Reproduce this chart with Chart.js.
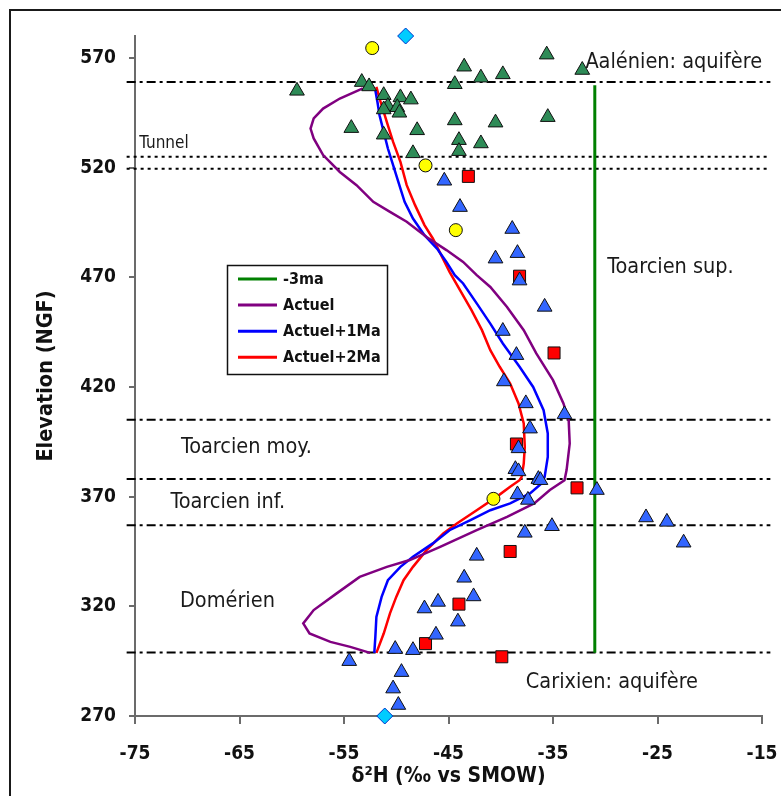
<!DOCTYPE html>
<html>
<head>
<meta charset="utf-8">
<script src="https://cdn.jsdelivr.net/npm/chart.js@4/dist/chart.umd.min.js"></script>
<style>
  html, body { margin: 0; padding: 0; background: #fff; }
  #wrap { width: 781px; height: 796px; }
</style>
</head>
<body>
<div id="wrap"><canvas id="chart" width="781" height="796"></canvas></div>
<script>
// ---- Modelled δ2H profiles (‰ vs SMOW) against elevation (m NGF) ----
const actuelElev = [556.1, 551.5, 546.9, 542.4, 537.8, 533.3, 525.7, 518.0, 512.0, 504.4, 499.8, 495.3, 488.4, 482.4, 477.0, 471.0, 465.6, 456.5, 445.9, 435.3, 423.1, 412.5, 404.9, 394.2, 382.1, 377.5, 373.0, 366.9, 360.8, 354.7, 347.1, 341.1, 338.0, 333.4, 325.9, 318.3, 312.2, 307.6, 303.8, 301.5, 298.8];
const actuelDH   = [-53.2, -55.4, -57.0, -57.9, -58.2, -57.9, -57.0, -55.4, -53.8, -52.2, -50.6, -49.0, -47.1, -45.2, -43.6, -42.3, -41.0, -39.4, -37.8, -36.6, -35.0, -34.0, -33.5, -33.4, -33.7, -33.9, -35.3, -36.8, -39.4, -42.3, -45.8, -48.7, -50.9, -53.5, -55.7, -57.9, -58.9, -58.3, -56.3, -54.4, -52.5];

const plus1Elev = [555.3, 549.9, 543.9, 536.3, 528.7, 521.1, 513.5, 504.4, 496.8, 489.2, 483.1, 477.0, 471.0, 467.2, 458.1, 448.9, 439.8, 429.2, 420.0, 409.4, 398.8, 388.1, 379.0, 376.0, 371.5, 366.9, 363.8, 359.3, 354.7, 348.7, 342.6, 338.0, 331.9, 324.3, 315.2, 306.1, 298.8];
const plus1DH   = [-52.0, -51.8, -51.6, -51.2, -50.8, -50.3, -49.8, -49.2, -48.4, -47.3, -46.1, -45.2, -44.4, -43.6, -42.3, -41.0, -39.8, -38.2, -36.9, -35.9, -35.5, -35.5, -35.8, -36.1, -37.2, -39.1, -41.0, -42.9, -44.9, -46.5, -48.4, -49.6, -50.8, -51.4, -51.9, -52.0, -52.1];

const plus2Elev = [556.8, 551.5, 545.4, 539.3, 531.7, 522.6, 512.0, 502.9, 493.8, 487.7, 480.1, 472.5, 464.1, 455.0, 445.9, 436.8, 429.2, 421.6, 412.5, 403.4, 392.7, 385.1, 379.0, 377.5, 374.5, 369.9, 363.8, 357.8, 353.2, 345.6, 338.0, 331.9, 324.3, 316.8, 307.6, 298.8];
const plus2DH   = [-51.9, -51.6, -51.2, -50.8, -50.3, -49.6, -49.0, -48.2, -47.3, -46.5, -45.7, -44.9, -43.9, -42.8, -41.8, -41.0, -40.1, -39.1, -38.3, -37.8, -37.7, -37.8, -38.0, -38.2, -39.1, -40.4, -42.3, -44.2, -45.5, -47.1, -48.4, -49.3, -50.0, -50.6, -51.2, -51.9];

// -3 Ma profile: constant value over the Toarcien-Domérien column
const minus3DH   = [-31, -31];
const minus3Elev = [298.8, 557.5];

// ---- Measured samples ----
const aalenienDH   = [-59.5, -53.3, -52.6, -51.2, -49.6, -48.6, -50.8, -51.2, -49.9, -49.7, -54.3, -48.0, -51.2, -48.4, -44.4, -43.5, -41.9, -39.8, -35.6, -32.2, -44.4, -40.5, -35.5, -44.0, -44.0, -41.9];
const aalenienElev = [555, 559, 557, 553, 552, 551, 548, 546.5, 547.5, 545, 538, 537, 535, 526.5, 558, 566, 561, 562.5, 571.5, 564.5, 541.5, 540.5, 543, 532.5, 527.5, 531];

const toarcienDH   = [-45.4, -43.9, -38.9, -40.5, -38.4, -35.8, -39.8, -38.5, -39.7, -37.6, -33.9, -37.2, -38.3, -38.6, -38.3, -36.4, -36.2, -38.4, -37.4, -30.8, -26.1, -24.1, -22.5, -37.7, -35.1, -42.3, -43.5, -42.6, -46.0, -47.3, -44.1, -46.2, -48.4, -50.1, -54.5, -49.5, -50.3, -49.8, -38.2];
const toarcienElev = [514, 502, 492, 478.5, 481, 456.5, 445.5, 434.5, 422.5, 412.5, 407.5, 401, 392, 382.5, 381.5, 378, 377.5, 371, 368.5, 373, 360.5, 358.5, 349, 353.5, 356.5, 343, 333, 324.5, 322, 319, 313, 307, 300, 300.5, 295, 290, 282.5, 275, 468.5];

const squareDH   = [-43.1, -38.2, -34.9, -38.5, -32.7, -39.1, -44.0, -47.2, -39.9];
const squareElev = [516, 470.5, 435.5, 394, 374, 345, 321, 303, 297];

const circleDH   = [-52.3, -47.2, -44.3, -40.7];
const circleElev = [574.5, 521, 491.5, 369];

const diamondDH   = [-49.1, -51.1];
const diamondElev = [580, 270];

// ---- Formation boundaries and tunnel level ----
const boundaryElev = [559, 405, 378, 357, 299];
const tunnelElev   = [525, 519.5];
const boundarySpan = [-75.8, -14.2];

// ---- Axis ticks ----
const xTicks = [-75, -65, -55, -45, -35, -25, -15];
const yTicks = [270, 320, 370, 420, 470, 520, 570];

// ---- Formation names ----
const zoneNames = ['Aalénien: aquifère', 'Toarcien sup.', 'Toarcien moy.', 'Toarcien inf.', 'Domérien', 'Carixien: aquifère', 'Tunnel'];

// placement of the formation names, in axis units
const zonePlacement = [
  { x: -31.9, y: 568.0, size: 21.5 },
  { x: -29.8, y: 474.6, size: 21.5 },
  { x: -70.6, y: 392.6, size: 21.5 },
  { x: -71.6, y: 367.5, size: 21.5 },
  { x: -70.7, y: 322.4, size: 21.5 },
  { x: -37.6, y: 285.5, size: 21.5 },
  { x: -74.6, y: 531.1, size: 17 }
];

const FONT = "'DejaVu Sans Condensed', 'DejaVu Sans', sans-serif";

const pairs = (xs, ys) => xs.map((v, i) => ({ x: v, y: ys[i] }));

function curve(label, xs, ys, color, width) {
  return {
    type: 'line', label, data: pairs(xs, ys), borderColor: color, backgroundColor: color,
    borderWidth: width, pointRadius: 0, fill: false, tension: 0, order: 1, inLegend: true
  };
}

function markers(xs, ys, style, fill, radius, border) {
  return {
    type: 'scatter', data: pairs(xs, ys), pointStyle: style, backgroundColor: fill,
    borderColor: border || '#111', borderWidth: 1, pointRadius: radius, pointHoverRadius: radius,
    order: 0, clip: false
  };
}

function guide(elev, dash) {
  return {
    type: 'line', data: pairs(boundarySpan, [elev, elev]), borderColor: '#000', borderWidth: 2,
    borderDash: dash, pointRadius: 0, fill: false, order: 2, clip: false
  };
}

const datasets = [];
boundaryElev.forEach(e => datasets.push(guide(e, [9, 4, 3, 4])));
tunnelElev.forEach(e => datasets.push(guide(e, [3, 4])));
datasets.push(curve('-3ma', minus3DH, minus3Elev, '#008000', 3));
datasets.push(curve('Actuel', actuelDH, actuelElev, '#800080', 2.5));
datasets.push(curve('Actuel+1Ma', plus1DH, plus1Elev, '#0000FF', 2.5));
datasets.push(curve('Actuel+2Ma', plus2DH, plus2Elev, '#FF0000', 2.5));
datasets.push(markers(aalenienDH, aalenienElev, 'triangle', '#2E8B57', 8.5));
datasets.push(markers(toarcienDH, toarcienElev, 'triangle', '#3366FF', 8.5));
datasets.push(markers(squareDH, squareElev, 'rect', '#FF0000', 8.5));
datasets.push(markers(circleDH, circleElev, 'circle', '#FFFF00', 6.5));
datasets.push(markers(diamondDH, diamondElev, 'rectRot', '#00CCFF', 8, '#0033CC'));

// frame, formation names and the legend box
const decor = {
  id: 'decor',
  beforeDraw(chart) {
    const ctx = chart.ctx;
    ctx.save();
    ctx.fillStyle = '#fff';
    ctx.fillRect(0, 0, chart.width, chart.height);
    ctx.fillStyle = '#1a1a1a';
    ctx.fillRect(9, 9, chart.width, 2);
    ctx.fillRect(9, 9, 2, chart.height);
    ctx.restore();
  },
  afterDatasetsDraw(chart) {
    const { ctx, scales: { x, y } } = chart;
    ctx.save();
    ctx.textBaseline = 'middle';
    ctx.textAlign = 'left';
    ctx.fillStyle = '#1a1a1a';
    zoneNames.forEach((name, i) => {
      const p = zonePlacement[i];
      ctx.font = p.size + 'px ' + FONT;
      ctx.fillText(name, x.getPixelForValue(p.x), y.getPixelForValue(p.y));
    });

    // legend
    const items = chart.data.datasets.filter(d => d.inLegend);
    const box = { left: 227, top: 265, width: 160, height: 109 };
    ctx.fillStyle = '#fff';
    ctx.fillRect(box.left, box.top, box.width, box.height);
    ctx.strokeStyle = '#111';
    ctx.lineWidth = 1.5;
    ctx.strokeRect(box.left + 0.5, box.top + 0.5, box.width, box.height);
    ctx.font = 'bold 16px ' + FONT;
    items.forEach((d, i) => {
      const cy = 279 + i * 26.1;
      ctx.strokeStyle = d.borderColor;
      ctx.lineWidth = 3;
      ctx.beginPath();
      ctx.moveTo(238, cy);
      ctx.lineTo(277, cy);
      ctx.stroke();
      ctx.fillStyle = '#111';
      ctx.fillText(d.label, 283, cy + 1);
    });
    ctx.restore();
  }
};

const noEdgePadding = s => { s.paddingLeft = 0; s.paddingRight = 0; s.paddingTop = 0; s.paddingBottom = 0; };

new Chart(document.getElementById('chart'), {
  data: { datasets },
  options: {
    responsive: false,
    animation: false,
    devicePixelRatio: 1,
    layout: { padding: { left: 10, top: 36, right: 19, bottom: 0 } },
    plugins: { legend: { display: false }, tooltip: { enabled: false } },
    scales: {
      x: {
        type: 'linear', position: 'bottom', min: -75, max: -15,
        afterFit: s => { s.height = 80; noEdgePadding(s); },
        afterBuildTicks: s => { s.ticks = xTicks.map(v => ({ value: v })); },
        border: { display: true, color: '#6b6b6b', width: 2 },
        grid: { drawOnChartArea: false, drawTicks: true, tickLength: 8, color: '#6b6b6b', lineWidth: 2 },
        ticks: { color: '#111', padding: 19, font: { family: FONT, size: 19, weight: 'bold' } },
        title: { display: true, text: 'δ²H (‰ vs SMOW)', color: '#111', padding: { top: 0, bottom: 7 },
                 font: { family: FONT, size: 21, weight: 'bold' } }
      },
      y: {
        type: 'linear', position: 'left', min: 270, max: 580,
        afterFit: s => { s.width = 125; noEdgePadding(s); },
        afterBuildTicks: s => { s.ticks = yTicks.map(v => ({ value: v })); },
        border: { display: true, color: '#6b6b6b', width: 2 },
        grid: { drawOnChartArea: false, drawTicks: true, tickLength: 6, color: '#6b6b6b', lineWidth: 2 },
        ticks: { color: '#111', padding: 13, font: { family: FONT, size: 19, weight: 'bold' } },
        title: { display: true, text: 'Elevation (NGF)', color: '#111', padding: { top: 24, bottom: 0 },
                 font: { family: FONT, size: 21.5, weight: 'bold' } }
      }
    }
  },
  plugins: [decor]
});
</script>
</body>
</html>
